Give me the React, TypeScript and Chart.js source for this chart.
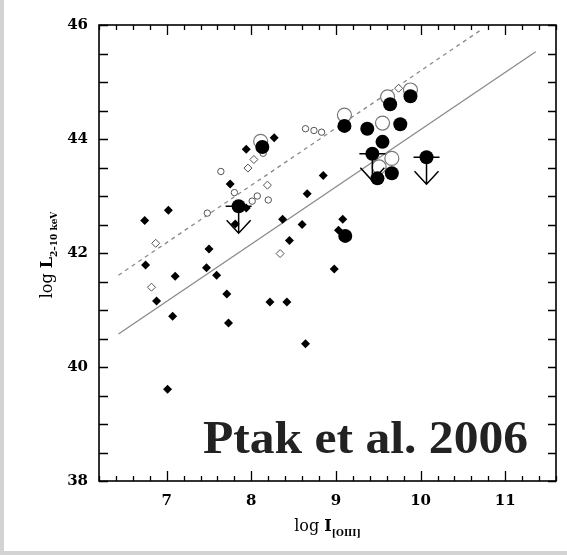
import React, { useEffect, useRef } from 'react';
import { Chart, registerables } from 'chart.js';

Chart.register(...registerables);

// ---- axis ranges & tick labels ----
const X_MIN = 6.2;
const X_MAX = 11.6;
const Y_MIN = 38;
const Y_MAX = 46;
const xTickValues = [7, 8, 9, 10, 11];
const yTickValues = [38, 40, 42, 44, 46];
const xMinorStep = 0.2;
const yMinorStep = 0.5;

// ---- small filled diamonds ----
const smallFilledX = [6.74, 7.02, 7.94, 7.75, 7.5, 6.75, 7.47, 7.1, 7.59, 7.71, 6.88, 7.07, 7.73, 8.22, 8.42, 8.64, 7.01, 8.98, 8.27, 8.85, 8.66, 8.37, 8.6, 8.45, 9.08, 9.03, 7.81, 7.94];
const smallFilledY = [42.57, 42.75, 43.82, 43.21, 42.07, 41.79, 41.74, 41.59, 41.61, 41.28, 41.16, 40.89, 40.77, 41.14, 41.14, 40.41, 39.61, 41.72, 44.02, 43.36, 43.04, 42.59, 42.5, 42.22, 42.59, 42.4, 42.51, 42.79];

// ---- small open diamonds ----
const openDiamondX = [6.87, 6.82, 8.34, 8.19, 7.96, 8.03, 9.74];
const openDiamondY = [42.17, 41.4, 41.99, 43.19, 43.49, 43.64, 44.89];

// ---- small open circles ----
const openSmallX = [7.64, 7.8, 7.48, 8.01, 8.07, 8.2, 8.14, 8.64, 8.74, 8.83];
const openSmallY = [43.43, 43.06, 42.7, 42.91, 43.0, 42.93, 43.75, 44.18, 44.15, 44.12];

// ---- large filled circles ----
const bigFilledX = [8.13, 9.1, 9.37, 9.55, 9.76, 9.64, 9.88, 9.49, 9.66, 9.11];
const bigFilledY = [43.86, 44.23, 44.18, 43.95, 44.26, 44.61, 44.75, 43.31, 43.4, 42.3];

// ---- large open circles ----
const bigOpenX = [9.55, 9.66, 9.1, 9.61, 9.88, 8.11, 9.51];
const bigOpenY = [44.28, 43.66, 44.42, 44.74, 44.86, 43.96, 43.51];

// ---- upper limits (large filled circle + bar + arrow) ----
const limitX = [7.85, 9.43, 10.07];
const limitY = [42.82, 43.74, 43.68];

// ---- fitted lines ----
const fitSolidX = [6.43, 11.36];
const fitSolidY = [40.58, 45.53];
const fitDashedX = [6.43, 10.72];
const fitDashedY = [41.61, 45.92];

const toPts = (xs: number[], ys: number[]) => xs.map((x, i) => ({ x, y: ys[i] }));

const bgPlugin = {
  id: 'bg',
  beforeDraw(chart: any) {
    const { ctx, width, height } = chart;
    ctx.save();
    ctx.fillStyle = '#d3d3d3';
    ctx.fillRect(0, 0, width, height);
    ctx.fillStyle = '#ffffff';
    ctx.fillRect(4, 0, width - 4, height - 4);
    ctx.restore();
  },
};

const framePlugin = {
  id: 'frame',
  afterDatasetsDraw(chart: any) {
    const { ctx, chartArea: a, scales } = chart;
    const xs = scales.x;
    const ys = scales.y;
    ctx.save();
    ctx.strokeStyle = '#000';
    ctx.lineWidth = 1.3;
    const nx = Math.round((X_MAX - X_MIN) / xMinorStep);
    for (let i = 0; i <= nx; i++) {
      const v = X_MIN + i * xMinorStep;
      const major = Math.abs(v - Math.round(v)) < 1e-6;
      const len = major ? 10 : 5;
      const px = Math.round(xs.getPixelForValue(v)) + 0.5;
      ctx.beginPath();
      ctx.moveTo(px, a.bottom);
      ctx.lineTo(px, a.bottom - len);
      ctx.moveTo(px, a.top);
      ctx.lineTo(px, a.top + len);
      ctx.stroke();
    }
    const ny = Math.round((Y_MAX - Y_MIN) / yMinorStep);
    for (let i = 0; i <= ny; i++) {
      const v = Y_MIN + i * yMinorStep;
      const py = Math.round(ys.getPixelForValue(v)) + 0.5;
      ctx.beginPath();
      ctx.moveTo(a.left, py);
      ctx.lineTo(a.left + 9, py);
      ctx.moveTo(a.right, py);
      ctx.lineTo(a.right - 8, py);
      ctx.stroke();
    }
    ctx.lineWidth = 1.6;
    ctx.strokeRect(a.left, a.top, a.right - a.left, a.bottom - a.top);
    ctx.restore();
  },
};

const limitPlugin = {
  id: 'limits',
  afterDatasetsDraw(chart: any) {
    const { ctx, scales } = chart;
    ctx.save();
    ctx.strokeStyle = '#000';
    ctx.lineWidth = 1.5;
    limitX.forEach((x, i) => {
      const px = scales.x.getPixelForValue(x);
      const py = scales.y.getPixelForValue(limitY[i]);
      ctx.beginPath();
      ctx.moveTo(px - 13, py);
      ctx.lineTo(px + 13, py);
      ctx.moveTo(px, py);
      ctx.lineTo(px, py + 27);
      ctx.moveTo(px - 12, py + 14);
      ctx.lineTo(px, py + 27);
      ctx.lineTo(px + 12, py + 14);
      ctx.stroke();
    });
    ctx.restore();
  },
};

const textPlugin = {
  id: 'texts',
  afterDraw(chart: any) {
    const { ctx, chartArea: a } = chart;
    ctx.save();
    ctx.fillStyle = '#000';
    ctx.textBaseline = 'alphabetic';
    // x title: log I_[OIII]
    const partsX = [
      { t: 'log ', f: '16px "DejaVu Serif"', dy: 0 },
      { t: 'I', f: 'bold 16px "DejaVu Serif"', dy: 0 },
      { t: '[OIII]', f: 'bold 9px "DejaVu Serif"', dy: 5 },
    ];
    let wx = 0;
    partsX.forEach((p) => { ctx.font = p.f; wx += ctx.measureText(p.t).width; });
    let cx = (a.left + a.right) / 2 - wx / 2;
    const by = 531;
    partsX.forEach((p) => {
      ctx.font = p.f;
      ctx.fillText(p.t, cx, by + p.dy);
      cx += ctx.measureText(p.t).width;
    });
    // y title: log L_{2-10 keV}
    const partsY = [
      { t: 'log ', f: '16px "DejaVu Serif"', dy: 0 },
      { t: 'L', f: 'bold 16px "DejaVu Serif"', dy: 0 },
      { t: '2\u201310 keV', f: 'bold 9px "DejaVu Serif"', dy: 5 },
    ];
    let wy = 0;
    partsY.forEach((p) => { ctx.font = p.f; wy += ctx.measureText(p.t).width; });
    ctx.save();
    ctx.translate(52, (a.top + a.bottom) / 2 + 2);
    ctx.rotate(-Math.PI / 2);
    let cy = -wy / 2;
    partsY.forEach((p) => {
      ctx.font = p.f;
      ctx.fillText(p.t, cy, p.dy);
      cy += ctx.measureText(p.t).width;
    });
    ctx.restore();
    // annotation, stretched to the width of the original's wide serif
    const label = 'Ptak et al. 2006';
    ctx.font = 'bold 46px "Liberation Serif"';
    const w = ctx.measureText(label).width;
    const targetLeft = 203;
    const targetRight = 528;
    const sx = (targetRight - targetLeft) / w;
    ctx.save();
    ctx.translate(targetLeft, 453);
    ctx.scale(sx, 1);
    ctx.fillStyle = '#222';
    ctx.textAlign = 'left';
    ctx.fillText(label, 0, 0);
    ctx.restore();
    ctx.restore();
  },
};

export default function App() {
  const ref = useRef<HTMLCanvasElement>(null);
  useEffect(() => {
    if (!ref.current) return;
    const tickFont = { family: '"DejaVu Serif"', size: 15, weight: 'bold' as const };
    const chart = new Chart(ref.current, {
      type: 'scatter',
      data: {
        datasets: [
          {
            label: 'upper limits',
            data: toPts(limitX, limitY),
            pointStyle: 'circle',
            pointRadius: 7,
            backgroundColor: '#000',
            borderColor: '#000',
            borderWidth: 0,
            order: 0,
          },
          {
            label: 'large filled',
            data: toPts(bigFilledX, bigFilledY),
            pointStyle: 'circle',
            pointRadius: 7,
            backgroundColor: '#000',
            borderColor: '#000',
            borderWidth: 0,
            order: 1,
          },
          {
            label: 'large open',
            data: toPts(bigOpenX, bigOpenY),
            pointStyle: 'circle',
            pointRadius: 7,
            backgroundColor: '#fff',
            borderColor: '#777',
            borderWidth: 1.2,
            order: 2,
          },
          {
            label: 'filled diamonds',
            data: toPts(smallFilledX, smallFilledY),
            pointStyle: 'rectRot',
            pointRadius: 4.5,
            backgroundColor: '#000',
            borderColor: '#000',
            borderWidth: 0,
            order: 3,
          },
          {
            label: 'open diamonds',
            data: toPts(openDiamondX, openDiamondY),
            pointStyle: 'rectRot',
            pointRadius: 4,
            backgroundColor: '#fff',
            borderColor: '#555',
            borderWidth: 1,
            order: 4,
          },
          {
            label: 'open circles',
            data: toPts(openSmallX, openSmallY),
            pointStyle: 'circle',
            pointRadius: 3.2,
            backgroundColor: '#fff',
            borderColor: '#555',
            borderWidth: 1,
            order: 5,
          },
          {
            label: 'fit solid',
            type: 'line' as const,
            data: toPts(fitSolidX, fitSolidY),
            showLine: true,
            pointRadius: 0,
            borderColor: '#8a8a8a',
            borderWidth: 1.3,
            order: 6,
          },
          {
            label: 'fit dashed',
            type: 'line' as const,
            data: toPts(fitDashedX, fitDashedY),
            showLine: true,
            pointRadius: 0,
            borderColor: '#8a8a8a',
            borderWidth: 1.3,
            borderDash: [4, 4],
            order: 7,
          },
        ] as any,
      },
      options: {
        responsive: false,
        devicePixelRatio: 1,
        animation: false,
        events: [],
        layout: { padding: { left: 0, right: 11, top: 25, bottom: 0 } },
        plugins: { legend: { display: false }, tooltip: { enabled: false } },
        scales: {
          x: {
            type: 'linear',
            min: X_MIN,
            max: X_MAX,
            afterBuildTicks: (s: any) => { s.ticks = xTickValues.map((v) => ({ value: v })); },
            afterFit: (s: any) => { s.height = 74; },
            grid: { display: false, drawTicks: false },
            border: { display: false },
            ticks: { font: tickFont, color: '#000', padding: 11, maxRotation: 0, autoSkip: false },
          },
          y: {
            type: 'linear',
            min: Y_MIN,
            max: Y_MAX,
            afterBuildTicks: (s: any) => { s.ticks = yTickValues.map((v) => ({ value: v })); },
            afterFit: (s: any) => { s.width = 99; },
            grid: { display: false, drawTicks: false },
            border: { display: false },
            ticks: { font: tickFont, color: '#000', padding: 11, autoSkip: false },
          },
        },
      } as any,
      plugins: [bgPlugin, framePlugin, limitPlugin, textPlugin],
    });
    return () => chart.destroy();
  }, []);
  return (
    <div style={{ position: 'fixed', left: 0, top: 0, width: 567, height: 555 }}>
      <canvas ref={ref} width={567} height={555} style={{ display: 'block' }} />
    </div>
  );
}
